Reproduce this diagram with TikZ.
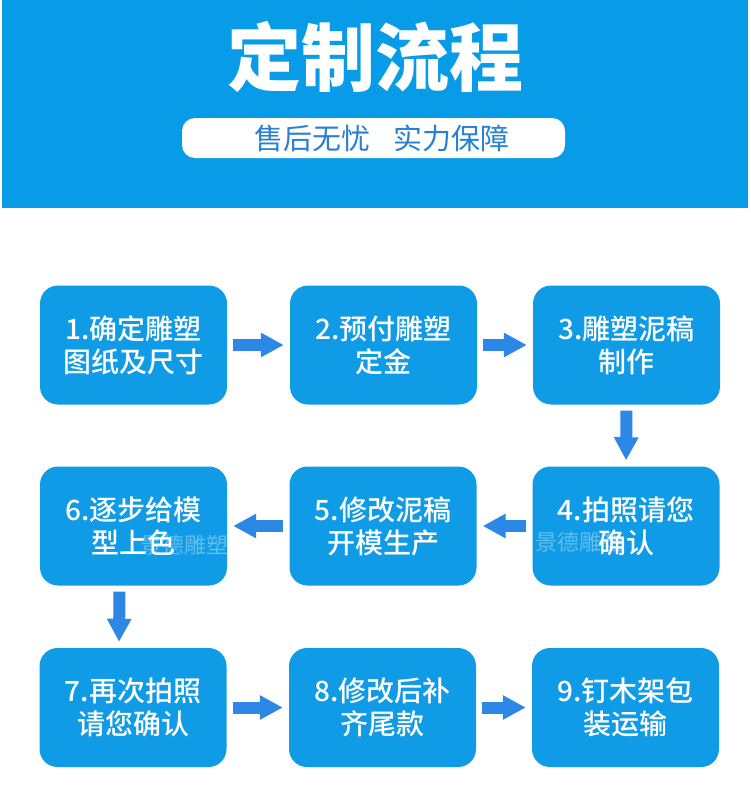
\documentclass[tikz,border=0pt]{standalone}
\usepackage{fontspec}
\setmainfont{Noto Sans CJK SC}
\newfontfamily\titlefont{Noto Sans CJK SC Black}
\newfontfamily\stepfont{Noto Sans CJK SC Medium}
\usetikzlibrary{arrows.meta}

\definecolor{headblue}{RGB}{8,156,232}
\definecolor{boxblue}{RGB}{16,155,230}
\definecolor{arrowblue}{RGB}{45,135,230}
\definecolor{subblue}{RGB}{40,128,210}

\tikzset{
  stepbox/.style={rectangle, rounded corners=18pt, fill=boxblue, text=white,
    minimum width=187pt, minimum height=119pt, align=center,
    font=\stepfont\fontsize{28}{33}\selectfont},
  flow/.style={arrowblue, line width=12pt, -{Triangle[width=23pt,length=23pt]},
    shorten <=6pt, shorten >=6pt},
  wmark/.style={text=white, opacity=0.35, font=\fontsize{22}{22}\selectfont}
}

\begin{document}
\begin{tikzpicture}[x=1pt,y=-1pt]
    \useasboundingbox (0,0) rectangle (750,790);

    % Header
    \fill[headblue] (2,0) rectangle (748,208);
    \node[text=white, font=\titlefont\fontsize{74}{74}\selectfont] (title) at (375,57) {定制流程};
    \node[fill=white, rounded corners=13pt, minimum width=383pt, minimum height=40pt] (pill) at (373.5,138) {};
    \node[text=subblue, font=\fontsize{29}{29}\selectfont] (slogan) at (382,138) {售后无忧\hspace{0.8em}实力保障};

    % Steps
    \node[stepbox] (b1) at (133.5,345) {1.确定雕塑\\图纸及尺寸};
    \node[stepbox] (b2) at (383.5,345) {2.预付雕塑\\定金};
    \node[stepbox] (b3) at (626.5,345) {3.雕塑泥稿\\制作};
    \node[stepbox] (b4) at (626,526) {4.拍照请您\\确认};
    \node[stepbox] (b5) at (383,526) {5.修改泥稿\\开模生产};
    \node[stepbox] (b6) at (133.5,526) {6.逐步给模\\型上色};
    \node[stepbox] (b7) at (133,707.5) {7.再次拍照\\请您确认};
    \node[stepbox] (b8) at (382.5,707.5) {8.修改后补\\齐尾款};
    \node[stepbox] (b9) at (625.5,707.5) {9.钉木架包\\装运输};

    % Watermark
    \node[wmark] (wm1) at (184,545) {景德雕塑};
    \node[wmark] (wm2) at (579,542) {景德雕塑};

    % Arrows
    \draw[flow] (b1) -- (b2);
    \draw[flow] (b2) -- (b3);
    \draw[flow] (b3.south) -- (b4.north);
    \draw[flow] (b4) -- (b5);
    \draw[flow] (b5) -- (b6);
    \draw[flow] ([xshift=-14pt]b6.south) -- ([xshift=-14pt]b7.north);
    \draw[flow] (b7) -- (b8);
    \draw[flow] (b8) -- (b9);

\end{tikzpicture}
\end{document}
